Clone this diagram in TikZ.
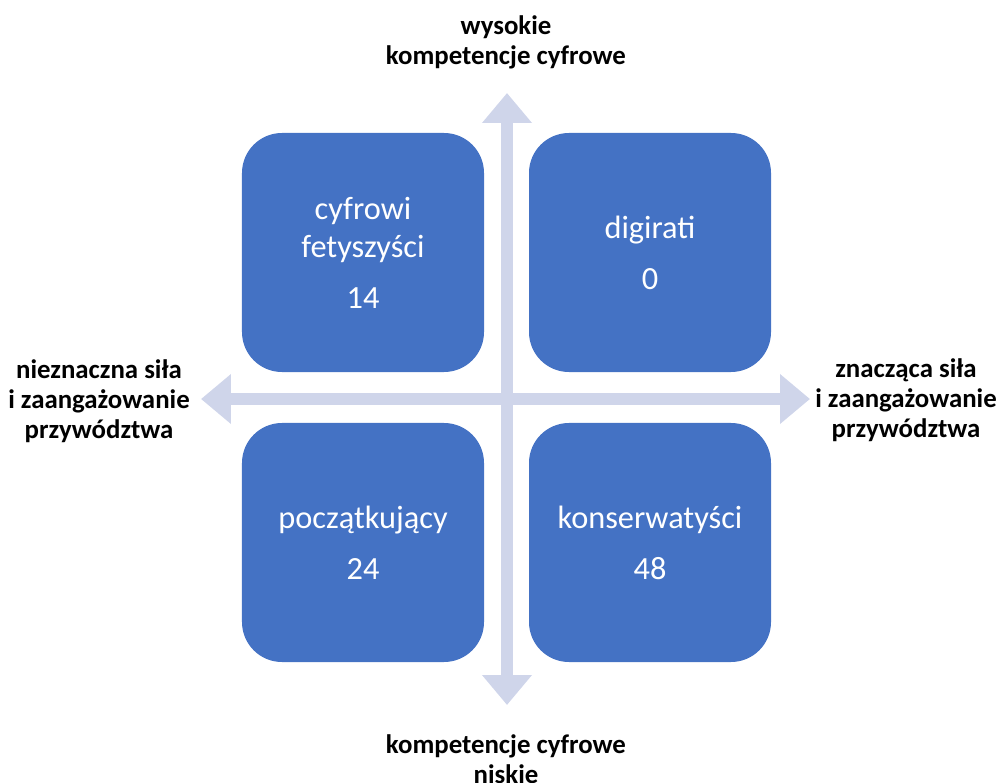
\documentclass[tikz,border=0pt]{standalone}
\usepackage{fontspec}
\setmainfont{Carlito}
\usetikzlibrary{arrows.meta}
\definecolor{quadblue}{RGB}{68,114,196}
\definecolor{axisblue}{RGB}{207,213,234}

\begin{document}
\begin{tikzpicture}[x=0.03cm,y=-0.03cm,
  quad/.style={fill=quadblue, text=white, rounded corners=1.2cm, inner sep=0pt,
    minimum width=7.26cm, minimum height=7.17cm, align=center,
    font=\fontsize{27.6pt}{32.4pt}\selectfont},
  axislabel/.style={align=center, inner sep=0pt,
    font=\fontsize{22.9pt}{25.6pt}\selectfont\bfseries},
  axis/.style={draw=axisblue, line width=10.2pt,
    {Triangle[width=41pt,length=25.6pt]}-{Triangle[width=41pt,length=25.6pt]}}]
  \useasboundingbox (0,0) rectangle (1000,783);

  % axis end points
  \coordinate (top) at (507,93);
  \coordinate (bottom) at (507,705);
  \coordinate (left) at (201,399);
  \coordinate (right) at (810,399);

  % axes
  \draw[axis] (left) -- (right);
  \draw[axis] (top) -- (bottom);

  % quadrants
  \node[quad] (tl) at (363,252.5) {cyfrowi\\fetyszyści\\[11pt]14};
  \node[quad] (tr) at (650,252.5) {digirati\\[11pt]0};
  \node[quad] (bl) at (363,542.5) {początkujący\\[11pt]24};
  \node[quad] (br) at (650,542.5) {konserwatyści\\[11pt]48};

  % axis labels
  \node[axislabel] (ltop) at (506,42) {wysokie\\kompetencje cyfrowe};
  \node[axislabel] (lbottom) at (506,759) {kompetencje cyfrowe\\niskie};
  \node[axislabel] (lleft) at (99,401) {nieznaczna siła\\i zaangażowanie\\przywództwa};
  \node[axislabel] (lright) at (906,400) {znacząca siła\\i zaangażowanie\\przywództwa};
\end{tikzpicture}
\end{document}
